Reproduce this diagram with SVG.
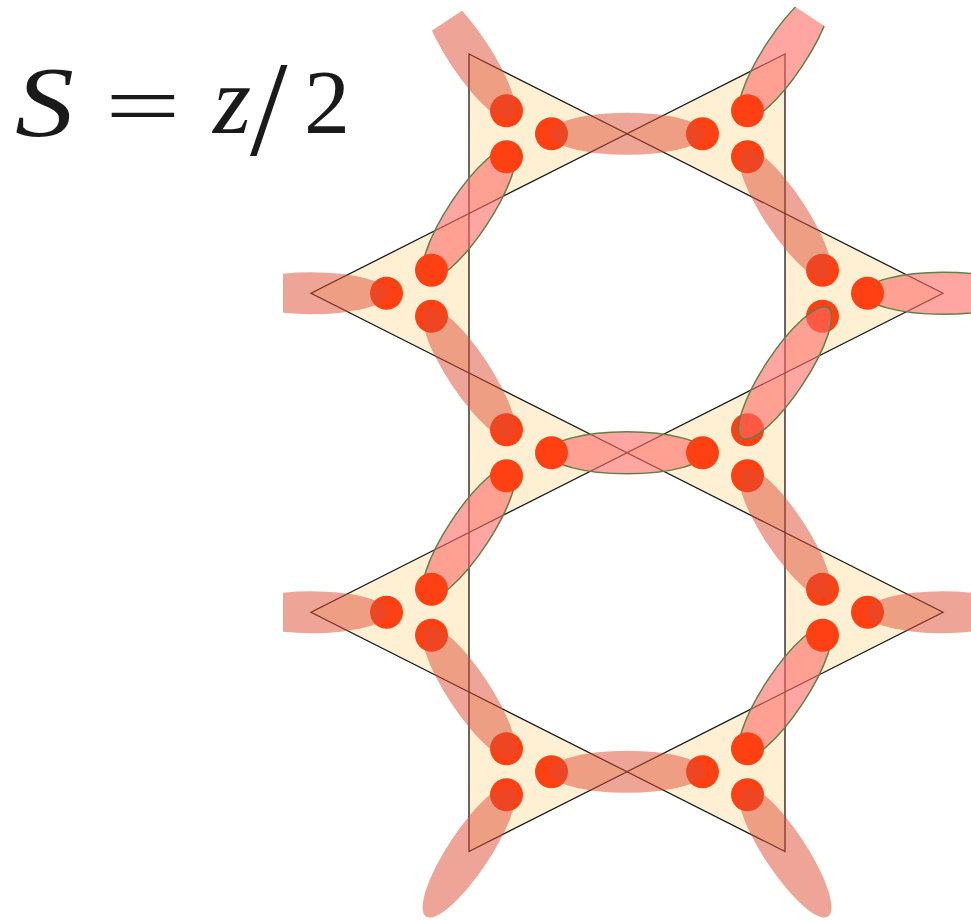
<svg xmlns="http://www.w3.org/2000/svg" width="971" height="921" viewBox="0 0 971 921">
<defs>
<style>
.tri{fill:#fff0d4;stroke:#1a1a1a;stroke-width:1.3;stroke-linejoin:miter}
.dot{fill:#ff4012}
.bp{fill:#dd4c32;fill-opacity:.5}
.bg{fill:#ff6b66;fill-opacity:.6;stroke:#5f8046;stroke-width:1.5}
.lbl{fill:#1a1a1a;font-family:Liberation Serif, DejaVu Serif, serif}
</style>
<clipPath id="c40" clipPathUnits="userSpaceOnUse"><rect x="-40" y="-40" width="140" height="80"/></clipPath>
<clipPath id="c45" clipPathUnits="userSpaceOnUse"><rect x="-45" y="-40" width="145" height="80"/></clipPath>
<clipPath id="c28" clipPathUnits="userSpaceOnUse"><rect x="-28" y="-40" width="128" height="80"/></clipPath>
</defs>
<rect width="971" height="921" fill="#ffffff"/>

<g id="label" class="lbl">
<text x="15" y="135" font-size="100" font-style="italic" transform="translate(15 0) scale(1.18 1) translate(-15 0)">S</text>
<text x="105" y="135" font-size="86" transform="translate(105 0) scale(1.56 1) translate(-105 0)">=</text>
<text x="213" y="133" font-size="98" font-style="italic">z</text>
<text x="250" y="155" font-size="135">/</text>
<text x="304" y="133" font-size="92">2</text>
</g>

<g id="triangles">
<g id="tA"><polygon class="tri" points="469,54 469,213.5 627,133.75"/></g>
<g id="tB"><polygon class="tri" points="469,213.5 469,373 311,293.25"/></g>
<g id="tC"><polygon class="tri" points="469,373 469,532.5 627,452.75"/></g>
<g id="tD"><polygon class="tri" points="469,532.5 469,692 311,612.25"/></g>
<g id="tE"><polygon class="tri" points="469,692 469,851.5 627,771.75"/></g>
<g id="tA2"><polygon class="tri" points="785,54 785,213.5 627,133.75"/></g>
<g id="tB2"><polygon class="tri" points="785,213.5 785,373 943,293.25"/></g>
<g id="tC2"><polygon class="tri" points="785,373 785,532.5 627,452.75"/></g>
<g id="tD2"><polygon class="tri" points="785,532.5 785,692 943,612.25"/></g>
<g id="tE2"><polygon class="tri" points="785,692 785,851.5 627,771.75"/></g>
</g>

<g id="connectors-under">
<g transform="translate(785,54) rotate(123.46)"><ellipse class="bg" rx="78" ry="21" clip-path="url(#c45)"/></g>
<ellipse class="bg" rx="78" ry="21" transform="translate(469,213.5) rotate(-56.54)"/>
<ellipse class="bg" rx="78" ry="21" transform="translate(943,293.25)"/>
<ellipse class="bg" rx="78" ry="21" transform="translate(627,452.75)"/>
<ellipse class="bg" rx="78" ry="21" transform="translate(469,532.5) rotate(-56.54)"/>
<ellipse class="bg" rx="78" ry="21" transform="translate(785,692) rotate(-56.54)"/>
</g>

<g id="sites">
<g id="dA"><circle class="dot" cx="506.5" cy="110.75" r="16.5"/><circle class="dot" cx="506.5" cy="156.75" r="16.5"/><circle class="dot" cx="551.5" cy="133.75" r="16.5"/></g>
<g id="dB"><circle class="dot" cx="431.5" cy="270.25" r="16.5"/><circle class="dot" cx="431.5" cy="316.25" r="16.5"/><circle class="dot" cx="386.5" cy="293.25" r="16.5"/></g>
<g id="dC"><circle class="dot" cx="506.5" cy="429.75" r="16.5"/><circle class="dot" cx="506.5" cy="475.75" r="16.5"/><circle class="dot" cx="551.5" cy="452.75" r="16.5"/></g>
<g id="dD"><circle class="dot" cx="431.5" cy="589.25" r="16.5"/><circle class="dot" cx="431.5" cy="635.25" r="16.5"/><circle class="dot" cx="386.5" cy="612.25" r="16.5"/></g>
<g id="dE"><circle class="dot" cx="506.5" cy="748.75" r="16.5"/><circle class="dot" cx="506.5" cy="794.75" r="16.5"/><circle class="dot" cx="551.5" cy="771.75" r="16.5"/></g>
<g id="dA2"><circle class="dot" cx="747.5" cy="110.75" r="16.5"/><circle class="dot" cx="747.5" cy="156.75" r="16.5"/><circle class="dot" cx="702.5" cy="133.75" r="16.5"/></g>
<g id="dB2"><circle class="dot" cx="822.5" cy="270.25" r="16.5"/><circle class="dot" cx="822.5" cy="316.25" r="16.5"/><circle class="dot" cx="867.5" cy="293.25" r="16.5"/></g>
<g id="dC2"><circle class="dot" cx="747.5" cy="429.75" r="16.5"/><circle class="dot" cx="747.5" cy="475.75" r="16.5"/><circle class="dot" cx="702.5" cy="452.75" r="16.5"/></g>
<g id="dD2"><circle class="dot" cx="822.5" cy="589.25" r="16.5"/><circle class="dot" cx="822.5" cy="635.25" r="16.5"/><circle class="dot" cx="867.5" cy="612.25" r="16.5"/></g>
<g id="dE2"><circle class="dot" cx="747.5" cy="748.75" r="16.5"/><circle class="dot" cx="747.5" cy="794.75" r="16.5"/><circle class="dot" cx="702.5" cy="771.75" r="16.5"/></g>
</g>

<g id="connectors">
<ellipse class="bp" rx="78" ry="21" transform="translate(627,133.75)"/>
<g transform="translate(469,54) rotate(56.54)"><ellipse class="bp" rx="78" ry="21" clip-path="url(#c40)"/></g>
<ellipse class="bp" rx="78" ry="21" transform="translate(785,213.5) rotate(56.54)"/>
<g transform="translate(311,293.25)"><ellipse class="bp" rx="78" ry="21" clip-path="url(#c28)"/></g>
<ellipse class="bp" rx="78" ry="21" transform="translate(469,373) rotate(56.54)"/>
<ellipse class="bp" rx="78" ry="21" transform="translate(785,532.5) rotate(56.54)"/>
<g transform="translate(311,612.25)"><ellipse class="bp" rx="78" ry="21" clip-path="url(#c28)"/></g>
<ellipse class="bp" rx="78" ry="21" transform="translate(943,612.25)"/>
<ellipse class="bp" rx="78" ry="21" transform="translate(469,692) rotate(56.54)"/>
<ellipse class="bp" rx="78" ry="21" transform="translate(627,771.75)"/>
<ellipse class="bp" rx="78" ry="21" transform="translate(469,851.5) rotate(-56.54)"/>
<ellipse class="bp" rx="78" ry="21" transform="translate(785,851.5) rotate(56.54)"/>
<ellipse class="bg" rx="78" ry="21" transform="translate(785,373) rotate(-56.54)"/>
</g>
</svg>
